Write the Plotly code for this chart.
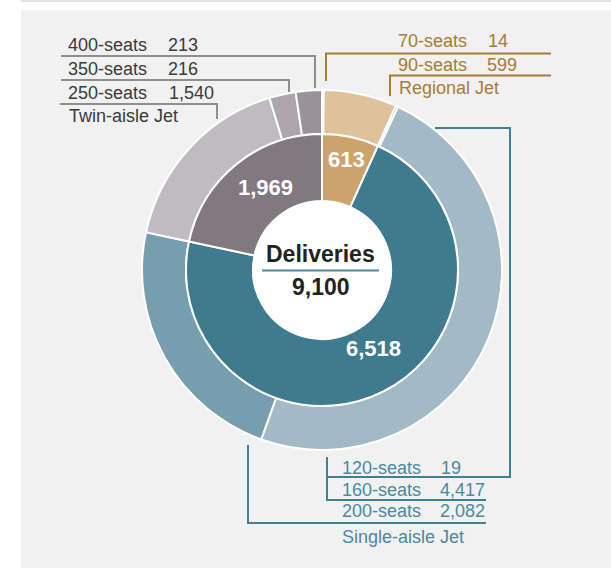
import math
import plotly.graph_objects as go

# Aircraft deliveries: segments on the inner ring, seat classes on the outer ring
segments = ["Regional Jet", "Single-aisle Jet", "Twin-aisle Jet"]
segment_values = [613, 6518, 1969]

seat_classes = ["70-seats", "90-seats", "120-seats", "160-seats",
                "200-seats", "250-seats", "350-seats", "400-seats"]
seat_values = [14, 599, 19, 4417, 2082, 1540, 216, 213]
seat_segment = ["Regional Jet", "Regional Jet", "Single-aisle Jet", "Single-aisle Jet",
                "Single-aisle Jet", "Twin-aisle Jet", "Twin-aisle Jet", "Twin-aisle Jet"]

center_title = "Deliveries"
total_deliveries = sum(segment_values)

# ---- styling -------------------------------------------------------------
W, H = 611, 568
CX, CY = 322, 270            # ring centre, px
R_OUT, R_MID, R_HOLE = 180, 136, 69
FONT = "Liberation Sans, Arial, sans-serif"

segment_colors = ["#cda36d", "#3e7b8e", "#827880"]
seat_colors = ["#c79d66", "#dfc29c", "#5f8fa1", "#a2bac6",
               "#779eae", "#c0bbc0", "#aca5ab", "#9a9299"]

group_style = {
    "Twin-aisle Jet": dict(text="#3a3a3a", line="#8f8f8f"),
    "Regional Jet": dict(text="#a87b37", line="#a87b37"),
    "Single-aisle Jet": dict(text="#4a89a0", line="#3f8095"),
}

# callout label layout (px): name column x, number column x, row y
seat_label_pos = {
    "400-seats": (66, 166, 44.5),
    "350-seats": (66, 166, 68.7),
    "250-seats": (66, 167, 92.5),
    "70-seats": (396, 486, 41),
    "90-seats": (396, 485, 64.5),
    "120-seats": (340, 438.5, 467.5),
    "160-seats": (340, 438, 489.5),
    "200-seats": (340, 438, 511),
}
segment_label_pos = {
    "Twin-aisle Jet": (67, 116),
    "Regional Jet": (397, 87.5),
    "Single-aisle Jet": (340, 536.5),
}

# leader lines (px polylines)
leaders = {
    "400-seats": [(61, 56), (315, 56), (315, 88)],
    "350-seats": [(61, 80), (289, 80), (289, 92)],
    "250-seats": [(60, 104), (217, 104), (217, 119)],
    "70-seats": [(551, 53.5), (326, 53.5), (326, 81)],
    "90-seats": [(551, 75.5), (390, 75.5), (390, 96)],
    "120-seats": [(435, 128), (510, 128), (510, 477), (327, 477)],
    "160-seats": [(327, 457), (327, 500), (486, 500)],
    "200-seats": [(248, 445), (248, 523), (486, 523)],
}

# placement of the segment value labels inside the inner ring
value_radius = [113, 94, 100]
value_angle_nudge = [0.5, -6.4, 4.4]


def px(x):
    return x / W


def py(y):
    return 1 - y / H


def domain(r):
    return dict(x=[px(CX - r), px(CX + r)], y=[py(CY + r), py(CY - r)])


fig = go.Figure()

fig.add_trace(go.Pie(
    labels=seat_classes, values=seat_values, sort=False, direction="clockwise",
    hole=R_MID / R_OUT, domain=domain(R_OUT), textinfo="none",
    marker=dict(colors=seat_colors, line=dict(color="white", width=2)),
    hovertemplate="%{label}: %{value:,}<extra></extra>", showlegend=False,
))
fig.add_trace(go.Pie(
    labels=segments, values=segment_values, sort=False, direction="clockwise",
    hole=R_HOLE / R_MID, domain=domain(R_MID), textinfo="none",
    marker=dict(colors=segment_colors, line=dict(color="white", width=2)),
    hovertemplate="%{label}: %{value:,}<extra></extra>", showlegend=False,
))
fig.add_trace(go.Pie(
    labels=[center_title], values=[total_deliveries], domain=domain(R_HOLE),
    textinfo="none", marker=dict(colors=["white"], line=dict(color="white", width=1)),
    hovertemplate="%{label}: %{value:,}<extra></extra>", showlegend=False,
))

shapes = [
    dict(type="rect", xref="paper", yref="paper", x0=px(21), x1=1, y0=0, y1=py(10),
         fillcolor="#f1f1f1", line=dict(width=0), layer="below"),
    dict(type="rect", xref="paper", yref="paper", x0=px(21), x1=1, y0=py(2), y1=1,
         fillcolor="#dfe5eb", line=dict(width=0), layer="below"),
    # rule under the centre title
    dict(type="line", xref="paper", yref="paper", x0=px(262), x1=px(379),
         y0=py(270.5), y1=py(270.5), line=dict(color="#4b8aa0", width=2)),
]

for cls, seg in zip(seat_classes, seat_segment):
    pts = leaders[cls]
    path = "M " + " L ".join(f"{px(x):.5f},{py(y):.5f}" for x, y in pts)
    shapes.append(dict(type="path", xref="paper", yref="paper", path=path,
                       line=dict(color=group_style[seg]["line"], width=2), layer="below"))

annotations = []


def add_text(text, x, y, color, size=18, bold=False, xanchor="left"):
    annotations.append(dict(
        text=f"<b>{text}</b>" if bold else text, x=px(x), y=py(y),
        xref="paper", yref="paper", xanchor=xanchor, yanchor="middle",
        showarrow=False, font=dict(family=FONT, size=size, color=color),
    ))


for cls, val, seg in zip(seat_classes, seat_values, seat_segment):
    xn, xv, y = seat_label_pos[cls]
    col = group_style[seg]["text"]
    add_text(cls, xn, y, col)
    add_text(f"{val:,}", xv, y, col)

for seg, (x, y) in segment_label_pos.items():
    add_text(seg, x, y, group_style[seg]["text"])

# segment values placed at the middle angle of their slice
cum = 0
for i, val in enumerate(segment_values):
    mid = (cum + val / 2) / total_deliveries * 360 + value_angle_nudge[i]
    cum += val
    a = math.radians(mid)
    x = CX + value_radius[i] * math.sin(a)
    y = CY - value_radius[i] * math.cos(a)
    add_text(f"{val:,}", x, y, "white", size=22, bold=True, xanchor="center")

add_text(center_title, 320.5, 253.5, "#222222", size=23, bold=True, xanchor="center")
add_text(f"{total_deliveries:,}", 320.5, 287, "#222222", size=23, bold=True, xanchor="center")

fig.update_layout(
    width=W, height=H, margin=dict(l=0, r=0, t=0, b=0),
    paper_bgcolor="white", plot_bgcolor="white",
    shapes=shapes, annotations=annotations, showlegend=False,
)

fig.write_html("out.html")
